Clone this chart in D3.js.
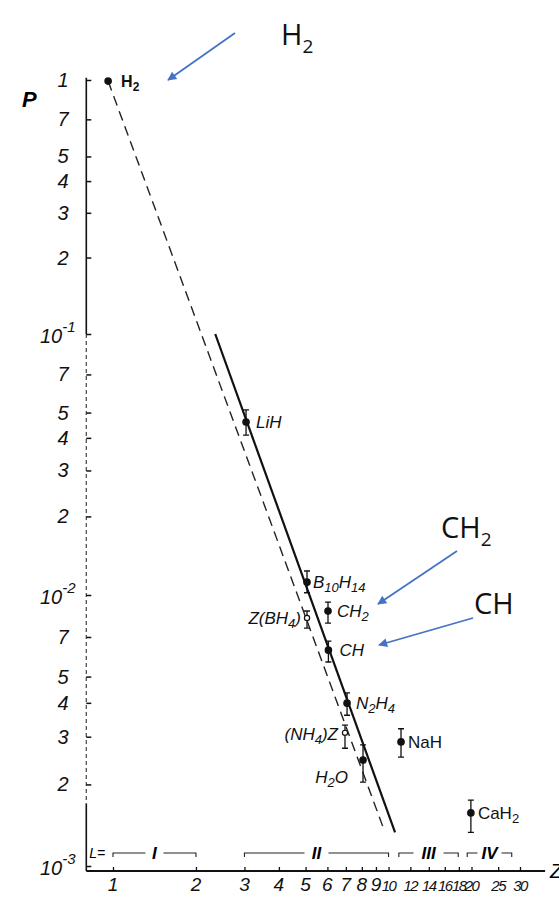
<!DOCTYPE html>
<html>
<head>
<meta charset="utf-8">
<script src="https://cdn.jsdelivr.net/npm/d3@7"></script>
<style>
  body { margin: 0; background: #fff; }
  svg { display: block; }
</style>
</head>
<body>
<div id="chart"></div>
<script>
let wSvg = 559; let hSvg = 897;

// data
const xTicks = [1, 2, 3, 4, 5, 6, 7, 8, 9, 10, 12, 14, 16, 18, 20, 25, 30];
const yTicks = [1, 0.7, 0.5, 0.4, 0.3, 0.2, 0.1, 0.07, 0.05, 0.04, 0.03, 0.02,
                0.01, 0.007, 0.005, 0.004, 0.003, 0.002, 0.001];
const yTickLabels = ["1", "7", "5", "4", "3", "2", "10|-1", "7", "5", "4", "3", "2",
                     "10|-2", "7", "5", "4", "3", "2", "10|-3"];

const compounds = ["H2", "LiH", "B10H14", "CH2", "CH", "Z(BH4)", "N2H4", "(NH4)Z", "H2O", "NaH", "CaH2"];
const compoundZ = [0.96, 3.04, 5.06, 6.03, 6.05, 5.06, 7.07, 6.95, 8.08, 11.1, 19.9];
const compoundP = [0.99, 0.046, 0.0112, 0.00873, 0.00626, 0.00822, 0.00399, 0.0031, 0.00246, 0.00287, 0.00157];
const compoundLow = [null, 0.041, 0.0102, 0.00788, 0.00566, 0.00755, 0.0036, 0.00272, 0.00204, 0.00252, 0.00133];
const compoundHigh = [null, 0.0512, 0.01236, 0.00942, 0.00676, 0.00873, 0.00435, 0.00331, 0.0028, 0.00321, 0.00175];
const compoundOpen = [false, false, false, false, false, true, false, true, false, false, false];

const solidLineZ = [2.35, 10.56];
const solidLineP = [0.1, 0.00133];
const dashedLineZ = [0.96, 9.63];
const dashedLineP = [0.99, 0.00136];

const groupNames = ["I", "II", "III", "IV"];
const groupFrom = [1, 3, 10.9, 19.3];
const groupTo = [2, 10, 17.9, 28];

// label placement (pixels relative to point)
const labelPos = {
    "H2":     {dx: 13, dy: 6, anchor: "start", upright: true},
    "LiH":    {dx: 10, dy: 6, anchor: "start"},
    "B10H14": {dx: 6, dy: 6, anchor: "start"},
    "CH2":    {dx: 9, dy: 6, anchor: "start"},
    "CH":     {dx: 11, dy: 6, anchor: "start"},
    "Z(BH4)": {dx: -6, dy: 6, anchor: "end"},
    "N2H4":   {dx: 9, dy: 6, anchor: "start"},
    "(NH4)Z": {dx: -7, dy: 7, anchor: "end"},
    "H2O":    {dx: -15, dy: 23, anchor: "end"},
    "NaH":    {dx: 7, dy: 6, anchor: "start", upright: true},
    "CaH2":   {dx: 7, dy: 6, anchor: "start", upright: true}
};

const labelFont = "'Liberation Sans Narrow', 'Liberation Sans', sans-serif";
const blue = "#4472C4";

let svg = d3.select("#chart")
    .append("svg")
    .attr("width", wSvg)
    .attr("height", hSvg)
    .style("background", "#fff");

const x = d3.scaleLog().domain([1, 30]).range([113, 520]);
// the scanned decades are not quite even, so piecewise
const y = d3.scaleLog().domain([1e-3, 1e-2, 1e-1, 1]).range([866, 595, 334, 80]);
const axisY = y(1e-3) + 5;
const axisX = x(0.8);

// y axis line (solid top, broken middle like the scan)
svg.append("line")
    .attr("x1", axisX).attr("x2", axisX)
    .attr("y1", y(1.02)).attr("y2", y(0.1))
    .attr("stroke", "#111").attr("stroke-width", 1.6);
svg.append("line")
    .attr("x1", axisX).attr("x2", axisX)
    .attr("y1", y(0.1)).attr("y2", y(0.0017))
    .attr("stroke", "#444").attr("stroke-width", 1.2)
    .attr("stroke-dasharray", "4,3");
svg.append("line")
    .attr("x1", axisX).attr("x2", axisX)
    .attr("y1", y(0.0017)).attr("y2", axisY)
    .attr("stroke", "#111").attr("stroke-width", 1.6);

// x axis line
svg.append("line")
    .attr("x1", axisX).attr("x2", x(37))
    .attr("y1", axisY).attr("y2", axisY)
    .attr("stroke", "#111").attr("stroke-width", 2);

const yAxis = svg.append("g")
    .attr("transform", `translate(${axisX},0)`)
    .call(d3.axisRight(y).tickValues(yTicks).tickSize(5).tickFormat(""));
yAxis.select(".domain").remove();
yAxis.selectAll(".tick line").attr("stroke", "#111").attr("stroke-width", 1.5);

const xAxis = svg.append("g")
    .attr("transform", `translate(0,${axisY})`)
    .call(d3.axisTop(x).tickValues(xTicks).tickSize(4).tickFormat(""));
xAxis.select(".domain").remove();
xAxis.selectAll(".tick line").attr("stroke", "#111").attr("stroke-width", 1.3);

// y tick labels
yTicks.forEach((v, i) => {
    const lab = yTickLabels[i];
    const t = svg.append("text")
        .attr("font-family", labelFont)
        .attr("font-style", "italic")
        .attr("fill", "#111");
    if (lab.includes("|")) {
        const [base, exp] = lab.split("|");
        t.attr("x", 40).attr("y", y(v) + 9).attr("font-size", 20);
        t.append("tspan").text(base);
        t.append("tspan").attr("dy", -11).attr("font-size", 15).text(exp);
    } else {
        t.attr("x", 63).attr("y", y(v) + 7)
            .attr("text-anchor", "middle")
            .attr("font-size", 20)
            .text(lab);
    }
});

svg.append("text")
    .attr("x", 22).attr("y", 107)
    .attr("font-family", labelFont)
    .attr("font-style", "italic")
    .attr("font-weight", "bold")
    .attr("font-size", 22)
    .text("P");

// x tick labels
svg.append("g")
    .selectAll("text")
    .data(xTicks)
    .enter()
    .append("text")
    .attr("x", d => x(d))
    .attr("y", axisY + 20)
    .attr("text-anchor", "middle")
    .attr("font-family", labelFont)
    .attr("font-style", "italic")
    .attr("font-size", d => d >= 10 ? 15 : 19)
    .attr("letter-spacing", d => d >= 10 ? -1.5 : 0)
    .attr("fill", "#111")
    .text(d => d);

svg.append("text")
    .attr("x", x(37) + 5).attr("y", axisY + 7)
    .attr("font-family", labelFont)
    .attr("font-style", "italic")
    .attr("font-size", 20)
    .text("Z");

// group brackets above the x axis
const brY = axisY - 18;
svg.append("text")
    .attr("x", axisX + 3).attr("y", brY + 5)
    .attr("font-family", labelFont)
    .attr("font-style", "italic")
    .attr("font-size", 14)
    .text("L=");
groupNames.forEach((name, i) => {
    const x1 = x(groupFrom[i]), x2 = x(groupTo[i]);
    const mid = (x1 + x2) / 2;
    const gap = 6 + name.length * 3;
    const g = svg.append("g").attr("stroke", "#222").attr("stroke-width", 1.1).attr("fill", "none");
    g.append("path").attr("d", `M${x1},${brY + 4}V${brY}H${mid - gap}`);
    g.append("path").attr("d", `M${mid + gap},${brY}H${x2}V${brY + 4}`);
    svg.append("text")
        .attr("x", mid).attr("y", brY + 6)
        .attr("text-anchor", "middle")
        .attr("font-family", labelFont)
        .attr("font-style", "italic")
        .attr("font-weight", "bold")
        .attr("font-size", 17)
        .text(name);
});

// regression lines
const lineGen = d3.line().x(d => x(d[0])).y(d => y(d[1]));
svg.append("path")
    .attr("d", lineGen(dashedLineZ.map((z, i) => [z, dashedLineP[i]])))
    .attr("fill", "none")
    .attr("stroke", "#222")
    .attr("stroke-width", 1.4)
    .attr("stroke-dasharray", "10,6");
svg.append("path")
    .attr("d", lineGen(solidLineZ.map((z, i) => [z, solidLineP[i]])))
    .attr("fill", "none")
    .attr("stroke", "#111")
    .attr("stroke-width", 2.2);

// points with error bars
compounds.forEach((name, i) => {
    const cx = x(compoundZ[i]), cy = y(compoundP[i]);
    if (compoundLow[i] !== null) {
        const yl = y(compoundLow[i]), yh = y(compoundHigh[i]);
        svg.append("path")
            .attr("d", `M${cx},${yh}V${yl}M${cx - 3},${yh}H${cx + 3}M${cx - 3},${yl}H${cx + 3}`)
            .attr("stroke", "#111").attr("stroke-width", 1.3).attr("fill", "none");
    }
    svg.append("circle")
        .attr("cx", cx).attr("cy", cy)
        .attr("r", compoundOpen[i] ? 2.6 : 3.2)
        .attr("fill", compoundOpen[i] ? "#fff" : "#111")
        .attr("stroke", "#111").attr("stroke-width", 1.2);

    const lp = labelPos[name];
    const big = name === "H2" ? 16 : 17;
    const small = name === "H2" ? 12 : 13;
    const t = svg.append("text")
        .attr("x", cx + lp.dx).attr("y", cy + lp.dy)
        .attr("text-anchor", lp.anchor)
        .attr("font-family", labelFont)
        .attr("font-style", lp.upright ? "normal" : "italic")
        .attr("font-weight", name === "H2" ? "bold" : "normal")
        .attr("font-size", big)
        .attr("fill", "#111");
    // digits are subscripts
    const parts = name.match(/\d+|\D+/g);
    let down = false;
    parts.forEach(p => {
        const isNum = /\d/.test(p);
        const ts = t.append("tspan").text(p);
        if (isNum && !down) { ts.attr("dy", 4).attr("font-size", small); down = true; }
        else if (isNum) { ts.attr("font-size", small); }
        else if (down) { ts.attr("dy", -4); down = false; }
    });
});

// blue call-outs
svg.append("defs").append("marker")
    .attr("id", "arr")
    .attr("viewBox", "0 0 10 10")
    .attr("refX", 9).attr("refY", 5)
    .attr("markerWidth", 6).attr("markerHeight", 5)
    .attr("orient", "auto-start-reverse")
    .attr("markerUnits", "strokeWidth")
    .append("path").attr("d", "M0,0L10,5L0,10z").attr("fill", blue);

const callouts = [
    {name: "H2", text: ["H", "2"], tx: 281, ty: 45, from: [235, 33], to: [168, 80]},
    {name: "CH2", text: ["CH", "2"], tx: 441, ty: 538, from: [457, 551], to: [378, 604]},
    {name: "CH", text: ["CH"], tx: 474, ty: 614, from: [473, 618], to: [379, 645]}
];
callouts.forEach(c => {
    svg.append("line")
        .attr("x1", c.from[0]).attr("y1", c.from[1])
        .attr("x2", c.to[0]).attr("y2", c.to[1])
        .attr("stroke", blue).attr("stroke-width", 1.8)
        .attr("marker-end", "url(#arr)");
    const t = svg.append("text")
        .attr("x", c.tx).attr("y", c.ty)
        .attr("font-family", "'Open Sans', 'Liberation Sans', sans-serif")
        .attr("font-size", 29)
        .attr("fill", "#111");
    t.append("tspan").text(c.text[0]);
    if (c.text[1]) t.append("tspan").attr("dy", 8).attr("font-size", 19).text(c.text[1]);
});
</script>
</body>
</html>
